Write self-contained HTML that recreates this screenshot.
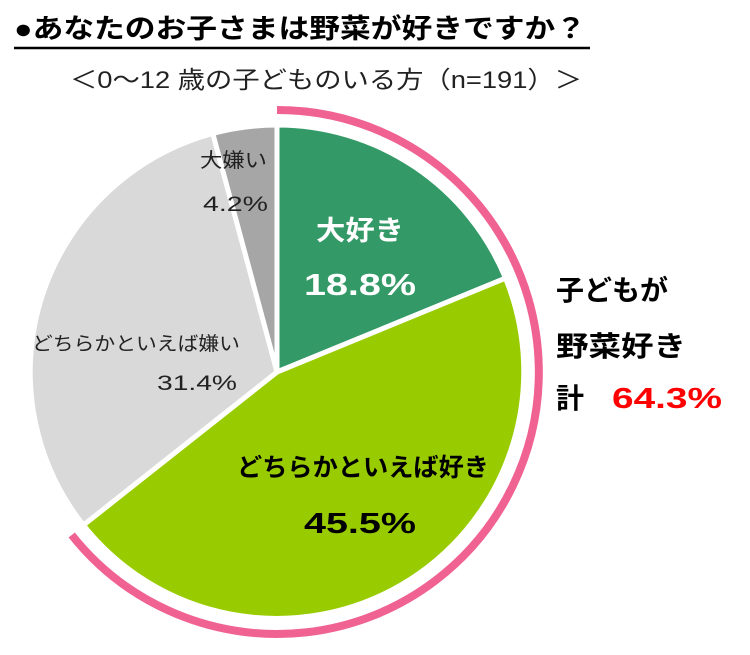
<!DOCTYPE html>
<html><head><meta charset="utf-8"><style>
body{margin:0;background:#fff;width:750px;height:650px;overflow:hidden;font-family:"Liberation Sans","Noto Sans CJK JP",sans-serif}
</style></head><body>
<svg width="750" height="650" viewBox="0 0 750 650" xmlns="http://www.w3.org/2000/svg" font-family="Liberation Sans, Noto Sans CJK JP, sans-serif">
<text x="14" y="38" font-size="27" font-weight="bold" fill="#000" textLength="572" lengthAdjust="spacingAndGlyphs">●あなたのお子さまは野菜が好きですか？</text>
<line x1="14" y1="48" x2="590" y2="48" stroke="#000" stroke-width="2.5"/>
<text x="70" y="88" font-size="24" fill="#222" textLength="512" lengthAdjust="spacingAndGlyphs">＜0～12 歳の子どものいる方（n=191）＞</text>
<g stroke="#fff" stroke-width="5" stroke-linejoin="round">
<path d="M277,372 L277,125 A247,247 0 0 1 505.5,278.2 Z" fill="#339966"/>
<path d="M277,372 L505.5,278.2 A247,247 0 0 1 83.4,525.1 Z" fill="#99cc00"/>
<path d="M277,372 L83.4,525.1 A247,247 0 0 1 212.8,133.5 Z" fill="#d9d9d9"/>
<path d="M277,372 L212.8,133.5 A247,247 0 0 1 277,125 Z" fill="#a6a6a6"/>
</g>
<path d="M277,110 A262,262 0 1 1 71.7,535" fill="none" stroke="#f06292" stroke-width="8"/>
<text x="316" y="240" font-size="27" font-weight="bold" fill="#fff" textLength="88" lengthAdjust="spacingAndGlyphs">大好き</text>
<text x="304" y="295" font-size="31" font-weight="bold" fill="#fff" textLength="112" lengthAdjust="spacingAndGlyphs">18.8%</text>
<text x="237" y="476" font-size="25" font-weight="bold" fill="#000" textLength="252" lengthAdjust="spacingAndGlyphs">どちらかといえば好き</text>
<text x="304" y="533" font-size="29" font-weight="bold" fill="#000" textLength="112" lengthAdjust="spacingAndGlyphs">45.5%</text>
<text x="32" y="350" font-size="19" fill="#222" textLength="208" lengthAdjust="spacingAndGlyphs">どちらかといえば嫌い</text>
<text x="157" y="390" font-size="21" fill="#222" textLength="80" lengthAdjust="spacingAndGlyphs">31.4%</text>
<text x="200" y="167" font-size="20" fill="#222" textLength="67" lengthAdjust="spacingAndGlyphs">大嫌い</text>
<text x="203" y="211" font-size="21" fill="#222" textLength="65" lengthAdjust="spacingAndGlyphs">4.2%</text>
<text x="556" y="300" font-size="28" font-weight="bold" fill="#000" textLength="112" lengthAdjust="spacingAndGlyphs">子どもが</text>
<text x="556" y="356" font-size="28" font-weight="bold" fill="#000" textLength="130" lengthAdjust="spacingAndGlyphs">野菜好き</text>
<text x="556" y="408" font-size="28" font-weight="bold" fill="#000">計</text>
<text x="612" y="408" font-size="29" font-weight="bold" fill="#ff0000" textLength="110" lengthAdjust="spacingAndGlyphs">64.3%</text>
</svg>
</body></html>
